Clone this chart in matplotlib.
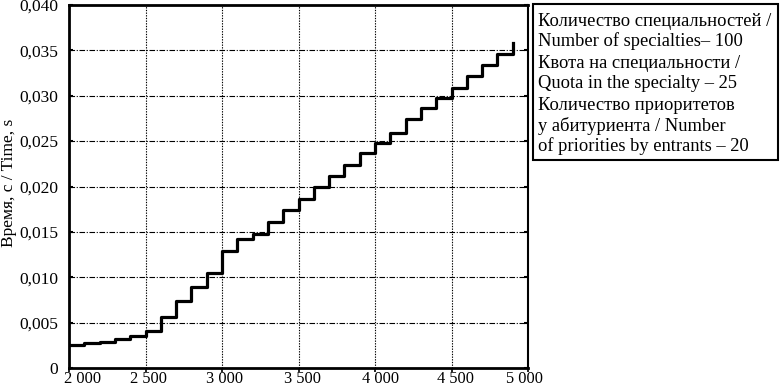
import matplotlib
matplotlib.use('Agg')
import matplotlib.pyplot as plt
from matplotlib.patches import Rectangle
from matplotlib.transforms import ScaledTranslation
import numpy as np

# step chart: time vs number of entrants
entrants = [2000, 2100, 2200, 2300, 2400, 2500, 2600, 2700, 2800, 2900,
            3000, 3100, 3200, 3300, 3400, 3500, 3600, 3700, 3800, 3900,
            4000, 4100, 4200, 4300, 4400, 4500, 4600, 4700, 4800, 4900]
time_s = [0.00256, 0.00274, 0.00292, 0.00322, 0.00354, 0.00413, 0.00559,
          0.00742, 0.00888, 0.01042, 0.01286, 0.01425, 0.01480, 0.01608,
          0.01736, 0.01864, 0.01992, 0.02120, 0.02240, 0.02365, 0.02478,
          0.02595, 0.02740, 0.02862, 0.02971, 0.03089, 0.03217, 0.03337,
          0.03465, 0.03580]

x_ticks = [2000, 2500, 3000, 3500, 4000, 4500, 5000]
x_labels = ['2 000', '2 500', '3 000', '3 500', '4 000', '4 500', '5 000']
y_ticks = [0, 0.005, 0.010, 0.015, 0.020, 0.025, 0.030, 0.035, 0.040]
y_labels = ['0', '0,005', '0,010', '0,015', '0,020', '0,025', '0,030', '0,035', '0,040']

info_lines = [
    ['Количество специальностей /', 'Number of specialties– 100'],
    ['Квота на специальности /', 'Quota in the specialty – 25'],
    ['Количество приоритетов', 'у абитуриента / Number', 'of priorities by entrants – 20'],
]

plt.rcParams['font.family'] = ['Liberation Serif', 'DejaVu Serif']
plt.rcParams['font.size'] = 12.5

fig = plt.figure(figsize=(7.8, 3.88), dpi=100)
ax = fig.add_axes([69 / 780, 20 / 388, (528 - 69) / 780, (368 - 5) / 388])

ax.step(entrants, time_s, where='post', color='black', lw=2.3)

ax.set_xlim(2000, 5000)
ax.set_ylim(0, 0.040)
ax.set_xticks(x_ticks)
ax.set_xticklabels(x_labels, fontsize=11.8)
ax.set_yticks(y_ticks)
ax.set_yticklabels(y_labels)
ax.set_ylabel('Время, с / Time, s')
ax.yaxis.set_label_coords(-0.113, 0.51)

for v in x_ticks[1:-1]:
    ax.axvline(v, color='black', lw=0.8, ls=(0, (1.2, 1.2)), zorder=0)
for v in y_ticks[1:-1]:
    ax.axhline(v, color='black', lw=0.8, ls=(0, (5, 1.5, 1, 1.5)), zorder=0)

for side in ['left', 'bottom', 'top']:
    ax.spines[side].set_linewidth(2)
ax.spines['right'].set_linewidth(1.5)
ax.tick_params(axis='x', direction='out', length=3, width=1.2, pad=-1)
ax.tick_params(axis='y', direction='in', length=3, width=1.5, right=True, pad=8)

# hand-placed x labels in the original are shifted a bit
shifts = [14, 3, 3, 4, 6, 4, -4]
for lab, dx in zip(ax.get_xticklabels(), shifts):
    lab.set_transform(lab.get_transform() + ScaledTranslation(dx / 100, 0, fig.dpi_scale_trans))

# info box on the right
box = Rectangle((533 / 780, (388 - 160) / 388), (778 - 533) / 780, (160 - 4) / 388,
                transform=fig.transFigure, fill=False, lw=1.5, edgecolor='black')
fig.patches.append(box)

centers = [21, 41, 63, 84, 106, 126, 146]
flat = [line for group in info_lines for line in group]
for line, yc in zip(flat, centers):
    fig.text(538 / 780, 1 - yc / 388, line, va='center', ha='left', fontsize=13.3)

fig.savefig('out.png', dpi=100)
